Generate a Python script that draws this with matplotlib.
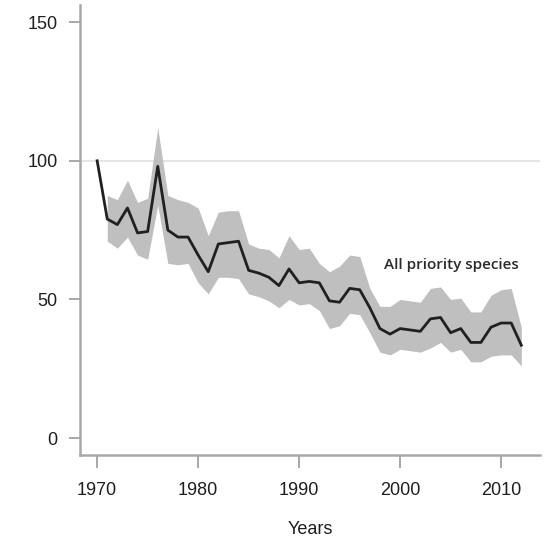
import numpy as np
import matplotlib
matplotlib.use("Agg")
import matplotlib.pyplot as plt

# Priority species index, 1970 = 100
years = list(range(1970, 2013))
index = [100, 79, 77, 83, 74, 74.5, 98, 75, 72.5, 72.5,
         66, 60, 70, 70.5, 71, 60.5, 59.5, 58, 55, 61,
         56, 56.5, 56, 49.5, 49, 54, 53.5, 47, 39.5, 37.5,
         39.5, 39, 38.5, 43, 43.5, 38, 39.5, 34.5, 34.5, 40,
         41.5, 41.5, 33.5]
# Confidence band (no interval in the base year)
upper = [np.nan, 87.5, 86, 93, 85, 86.5, 112, 87.5, 86, 85,
         83, 73, 81.5, 82, 82, 70, 68.5, 68, 65, 73,
         68, 68.5, 63, 60, 62, 66, 65.5, 54, 47.5, 47.5,
         50, 49.5, 49, 54, 54.5, 50, 50.5, 45.5, 45.5, 51.5,
         53.5, 54, 40]
lower = [np.nan, 71, 68.5, 72.5, 66, 64.5, 84, 63, 62.5, 63,
         56, 52, 58, 58, 57.5, 52, 51, 49.5, 47, 50,
         48, 48.5, 46, 39.5, 40.5, 45, 44.5, 38, 31, 30,
         32, 31.5, 31, 32.5, 34.5, 31, 32, 27.5, 27.5, 29.5,
         30, 30, 26]
x_ticks = [1970, 1980, 1990, 2000, 2010]
y_ticks = [0, 50, 100, 150]
series_label = "All priority species"

axis_grey = "#a8a8a8"
text_col = "#1e1e1e"

fig = plt.figure(figsize=(5.54, 5.38), dpi=100)
ax = fig.add_axes([80 / 554, 83 / 538, 460 / 554, 450 / 538])

ax.axhline(100, color="#e0e0e0", lw=1.2, zorder=1)
ax.fill_between(years, np.array(lower, float), np.array(upper, float),
                color="#bfbfbf", lw=0, zorder=2)
ax.plot(years, index, color="#202020", lw=2.0, zorder=3)

ax.set_xlim(1968.3, 2013.85)
ax.set_ylim(-6.1, 156.2)
ax.set_xticks(x_ticks)
ax.set_yticks(y_ticks)

for side in ("top", "right"):
    ax.spines[side].set_visible(False)
for side in ("left", "bottom"):
    ax.spines[side].set_color(axis_grey)
    ax.spines[side].set_linewidth(1.8)

ax.tick_params(axis="both", direction="out", color=axis_grey, width=1.4,
               labelcolor=text_col)
ax.tick_params(axis="y", length=8, pad=8)
ax.tick_params(axis="x", length=9.5, pad=10)
for lab in ax.get_xticklabels() + ax.get_yticklabels():
    lab.set_fontfamily("Liberation Sans")
    lab.set_fontsize(13)

ax.set_xlabel("Years", fontfamily="Liberation Sans", fontsize=13,
              color=text_col, labelpad=15.5)

ax.text(1998.45, 62.4, series_label, fontfamily="Open Sans", fontsize=11,
        fontweight="semibold", color="#2a2a2a", ha="left", va="center")

fig.savefig("out.png", dpi=100)
